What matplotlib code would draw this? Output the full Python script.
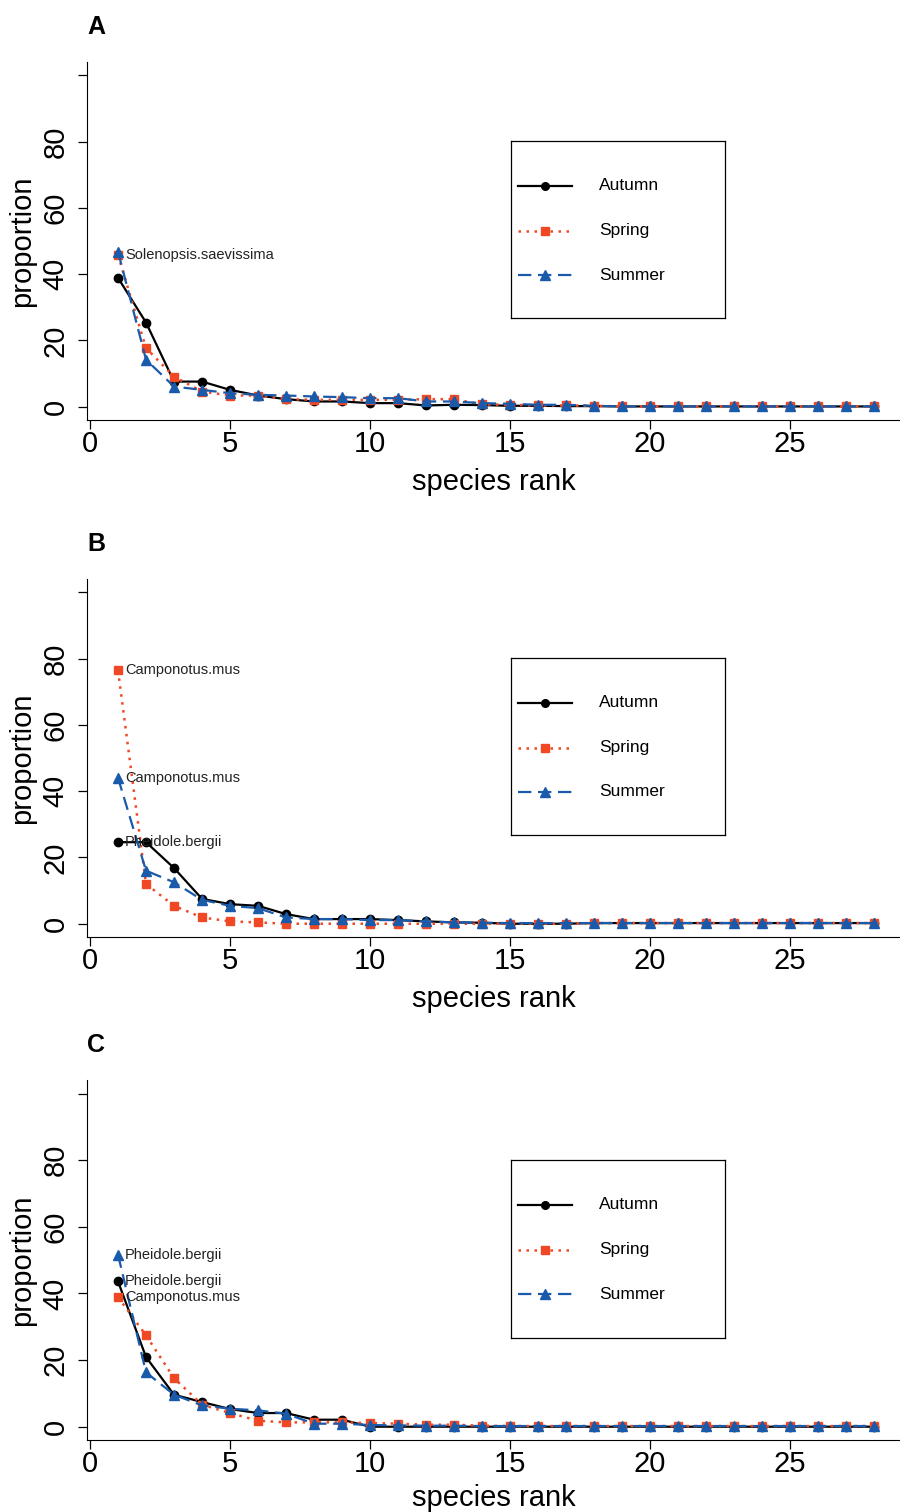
"""Rank-abundance curves of ant species per season (panels A, B, C)."""

import matplotlib.pyplot as plt
from matplotlib.lines import Line2D

plt.rcParams["font.family"] = ["Liberation Sans", "DejaVu Sans"]

RANKS = list(range(1, 29))

# proportion (%) by species rank
A_AUTUMN = [38.9, 25.4, 7.6, 7.6, 5.1, 3.4, 2.3, 1.6, 1.6, 1.1, 1.1, 0.4, 0.6, 0.5,
            0.3, 0.3, 0.2, 0.2, 0.1, 0.1, 0.1, 0.1, 0.1, 0.1, 0.1, 0.1, 0.1, 0.1]
A_SPRING = [45.8, 17.7, 9.1, 4.6, 3.4, 3.4, 2.3, 2.1, 2.1, 2.1, 2.1, 2.3, 2.3, 0.7,
            0.6, 0.4, 0.4, 0.3, 0.1, 0.1, 0.1, 0.1, 0.1, 0.1, 0.1, 0.1, 0.1, 0.1]
A_SUMMER = [46.8, 14.2, 6.1, 5.1, 4.1, 3.6, 3.4, 3.1, 2.9, 2.6, 2.6, 1.6, 1.6, 1.1,
            0.9, 0.6, 0.6, 0.3, 0.1, 0.1, 0.1, 0.1, 0.1, 0.1, 0.1, 0.1, 0.1, 0.1]

B_AUTUMN = [24.6, 24.6, 16.8, 7.5, 5.9, 5.4, 2.9, 1.4, 1.4, 1.4, 1.1, 0.7, 0.4, 0.3,
            0.0, 0.0, 0.0, 0.2, 0.2, 0.2, 0.2, 0.2, 0.2, 0.2, 0.2, 0.2, 0.2, 0.2]
B_SPRING = [76.4, 12.0, 5.4, 1.9, 0.7, 0.4, 0.0, 0.0, 0.0, 0.0, 0.0, 0.0, 0.0, 0.0,
            0.0, 0.0, 0.0, 0.2, 0.2, 0.2, 0.2, 0.2, 0.2, 0.2, 0.2, 0.2, 0.2, 0.2]
B_SUMMER = [44.0, 16.0, 12.5, 7.2, 5.4, 4.7, 1.9, 1.4, 1.4, 1.1, 1.1, 0.7, 0.4, 0.3,
            0.2, 0.2, 0.2, 0.2, 0.2, 0.2, 0.2, 0.2, 0.2, 0.2, 0.2, 0.2, 0.2, 0.2]

C_AUTUMN = [43.6, 20.9, 9.6, 7.4, 5.3, 4.1, 4.1, 2.1, 2.1, 0.0, 0.0, 0.0, 0.0, 0.0,
            0.0, 0.0, 0.0, 0.0, 0.0, 0.0, 0.0, 0.0, 0.0, 0.0, 0.0, 0.0, 0.0, 0.0]
C_SPRING = [38.9, 27.4, 14.6, 6.6, 4.1, 1.8, 1.3, 1.3, 1.3, 1.1, 0.9, 0.6, 0.6, 0.3,
            0.2, 0.2, 0.2, 0.2, 0.2, 0.2, 0.2, 0.2, 0.2, 0.2, 0.2, 0.2, 0.2, 0.2]
C_SUMMER = [51.6, 16.3, 9.6, 6.4, 5.4, 4.9, 3.9, 0.9, 0.9, 0.5, 0.4, 0.3, 0.3, 0.2,
            0.2, 0.2, 0.2, 0.2, 0.2, 0.2, 0.2, 0.2, 0.2, 0.2, 0.2, 0.2, 0.2, 0.2]

# top-ranked species named at rank 1: (season, label)
A_LABELS = [("Spring", "Solenopsis.saevissima")]
B_LABELS = [("Spring", "Camponotus.mus"), ("Summer", "Camponotus.mus"),
            ("Autumn", "Pheidole.bergii")]
C_LABELS = [("Summer", "Pheidole.bergii"), ("Autumn", "Pheidole.bergii"),
            ("Spring", "Camponotus.mus")]

SEASONS = ["Autumn", "Spring", "Summer"]
STYLES = {
    "Autumn": dict(color="black", ls="-", marker="o", ms=6, lw=1.6),
    "Spring": dict(color="#F04824", ls=(0, (1, 2.2)), marker="s", ms=6, lw=1.8),
    "Summer": dict(color="#1A5AAA", ls=(0, (6, 3)), marker="^", ms=7, lw=1.6),
}

# letter, series, labels, axes rect, x-label pad
PANELS = [
    ("A", {"Autumn": A_AUTUMN, "Spring": A_SPRING, "Summer": A_SUMMER}, A_LABELS,
     [0.0967, 0.7222, 0.9033, 0.2368], 7),
    ("B", {"Autumn": B_AUTUMN, "Spring": B_SPRING, "Summer": B_SUMMER}, B_LABELS,
     [0.0967, 0.3803, 0.9033, 0.2368], 7),
    ("C", {"Autumn": C_AUTUMN, "Spring": C_SPRING, "Summer": C_SUMMER}, C_LABELS,
     [0.0967, 0.0476, 0.9033, 0.2380], 4),
]


def draw_legend(ax):
    box = ax.inset_axes([0.5215, 0.2849, 0.263, 0.4944])
    box.set_xticks([])
    box.set_yticks([])
    box.set_xlim(0, 1)
    box.set_ylim(0, 1)
    for sp in box.spines.values():
        sp.set_linewidth(0.9)
    for season, y in zip(SEASONS, [0.746, 0.492, 0.243]):
        st = dict(STYLES[season])
        ms = st.pop("ms")
        box.add_line(Line2D([0.033, 0.285], [y, y], **{k: v for k, v in st.items()
                                                      if k != "marker"}))
        box.plot([0.159], [y], marker=st["marker"], color=st["color"], ms=ms - 0.5,
                 ls="none")
        box.text(0.411, y, season, fontsize=12.5, va="center", ha="left")


def draw_panel(fig, letter, series, labels, rect, xpad):
    ax = fig.add_axes(rect)
    for season in SEASONS:
        ax.plot(RANKS, series[season], **STYLES[season])
    for season, name in labels:
        ax.text(RANKS[0] + 0.25, series[season][0], name, fontsize=10.5,
                va="center", ha="left", color="#222222")

    ax.set_xlim(-0.107, 28.93)
    ax.set_ylim(-4, 104)
    ax.spines["top"].set_visible(False)
    ax.spines["right"].set_visible(False)
    ax.set_xticks([0, 5, 10, 15, 20, 25])
    ax.set_yticks([0, 20, 40, 60, 80, 100])
    ax.set_yticklabels(["0", "20", "40", "60", "80", ""], rotation=90, va="center")
    ax.tick_params(direction="out", length=6.5, width=0.9, labelsize=21)
    ax.tick_params(axis="y", pad=6)
    ax.tick_params(axis="x", pad=1)
    ax.set_xlabel("species rank", fontsize=21, labelpad=xpad)
    ax.set_ylabel("proportion", fontsize=21, labelpad=4)
    ax.text(0.0, 1.098, letter, transform=ax.transAxes, fontsize=18,
            fontweight="bold", ha="left", va="center")
    draw_legend(ax)


def main():
    fig = plt.figure(figsize=(9, 15.12), dpi=100)
    for letter, series, labels, rect, xpad in PANELS:
        draw_panel(fig, letter, series, labels, rect, xpad)
    fig.savefig("out.png", dpi=100)


if __name__ == "__main__":
    main()
